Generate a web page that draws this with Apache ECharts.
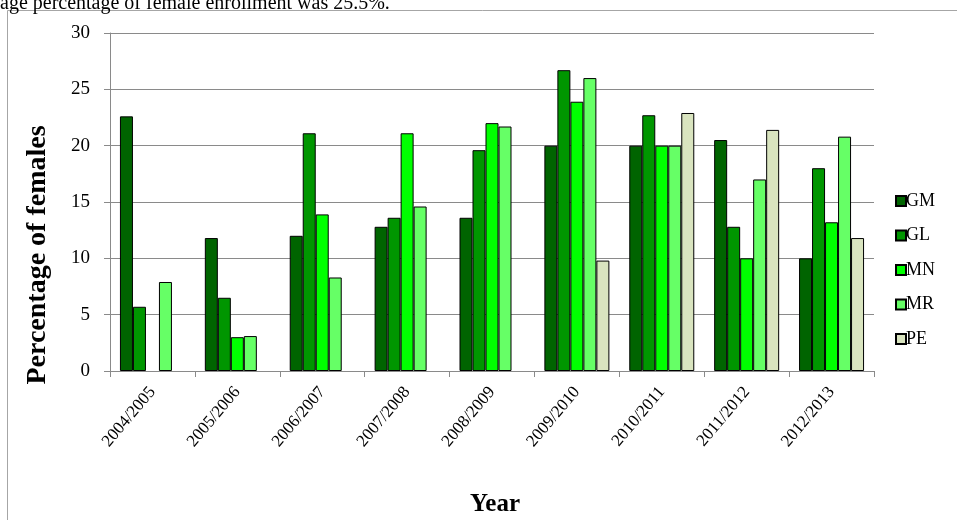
<!DOCTYPE html>
<html>
<head>
<meta charset="utf-8">
<script src="https://cdn.jsdelivr.net/npm/echarts@6/dist/echarts.min.js"></script>
<style>
  html, body { margin: 0; padding: 0; background: #ffffff; }
  #chart { width: 957px; height: 520px; }
</style>
</head>
<body>
<div id="chart"></div>
<script>
// School years on the category axis
const years = ['2004/2005', '2005/2006', '2006/2007', '2007/2008', '2008/2009',
               '2009/2010', '2010/2011', '2011/2012', '2012/2013'];

// Percentage of female students per programme (null = no intake that year)
const gm = [22.6, 11.8, 12.0, 12.8, 13.6, 20.0, 20.0, 20.5, 10.0];
const gl = [5.7, 6.5, 21.1, 13.6, 19.6, 26.7, 22.7, 12.8, 18.0];
const mn = [null, 3.0, 13.9, 21.1, 22.0, 23.9, 20.0, 10.0, 13.2];
const mr = [7.9, 3.1, 8.3, 14.6, 21.7, 26.0, 20.0, 17.0, 20.8];
const pe = [null, null, null, null, null, 9.8, 22.9, 21.4, 11.8];

const seriesNames = ['GM', 'GL', 'MN', 'MR', 'PE'];
const seriesValues = [gm, gl, mn, mr, pe];
const seriesColors = ['#006400', '#009600', '#00ff00', '#66ff66', '#d9e4bf'];

const serif = '"Liberation Serif", "Times New Roman", serif';
const gridGray = '#8a8a8a';

const chart = echarts.init(document.getElementById('chart'), null, { renderer: 'canvas' });

chart.setOption({
  animation: false,
  backgroundColor: '#ffffff',
  textStyle: { fontFamily: serif, color: '#000' },
  grid: { left: 110, right: 83, top: 33, bottom: 149, containLabel: false },
  legend: {
    orient: 'vertical',
    left: 890,
    top: 187,
    itemWidth: 10,
    itemHeight: 10,
    itemGap: 16.5,
    icon: 'rect',
    textStyle: { fontFamily: serif, fontSize: 18, color: '#000', lineHeight: 16, padding: [0, 0, 0, -5] },
    data: seriesNames
  },
  xAxis: {
    type: 'category',
    data: years,
    axisLine: { lineStyle: { color: gridGray, width: 1 } },
    axisTick: { show: true, length: 6, lineStyle: { color: gridGray } },
    axisLabel: {
      rotate: 50,
      margin: 18,
      fontFamily: serif,
      fontSize: 17,
      color: '#000',
      interval: 0
    }
  },
  yAxis: {
    type: 'value',
    min: 0,
    max: 30,
    interval: 5,
    axisLine: { show: true, lineStyle: { color: gridGray, width: 1 } },
    axisTick: { show: true, length: 6, lineStyle: { color: gridGray } },
    splitLine: { show: true, lineStyle: { color: gridGray, width: 1 } },
    axisLabel: { margin: 20, fontFamily: serif, fontSize: 19, color: '#000' }
  },
  series: seriesNames.map((name, i) => ({
    name: name,
    type: 'bar',
    data: seriesValues[i],
    barWidth: 13,
    barGap: '0%',
    itemStyle: { color: seriesColors[i], borderColor: '#000', borderWidth: 1 }
  })),
  graphic: [
    // page frame around the figure
    { type: 'line', shape: { x1: 7.5, y1: 10.5, x2: 957, y2: 10.5 }, style: { stroke: '#a6a6a6', lineWidth: 1 } },
    { type: 'line', shape: { x1: 7.5, y1: 10.5, x2: 7.5, y2: 520 }, style: { stroke: '#a6a6a6', lineWidth: 1 } },
    // sentence of the surrounding text, cut at the top edge
    {
      type: 'text', x: 0, y: 14, z: 10,
      style: { text: 'age percentage of female enrollment was 25.5%.', font: '20px ' + serif, fill: '#000', verticalAlign: 'bottom' }
    },
    {
      type: 'text', x: 38, y: 255, rotation: Math.PI / 2,
      style: { text: 'Percentage of females', font: 'bold 28px ' + serif, fill: '#000', align: 'center', verticalAlign: 'middle' }
    },
    {
      type: 'text', x: 495, y: 505,
      style: { text: 'Year', font: 'bold 25px ' + serif, fill: '#000', align: 'center', verticalAlign: 'middle' }
    }
  ]
});
</script>
</body>
</html>
